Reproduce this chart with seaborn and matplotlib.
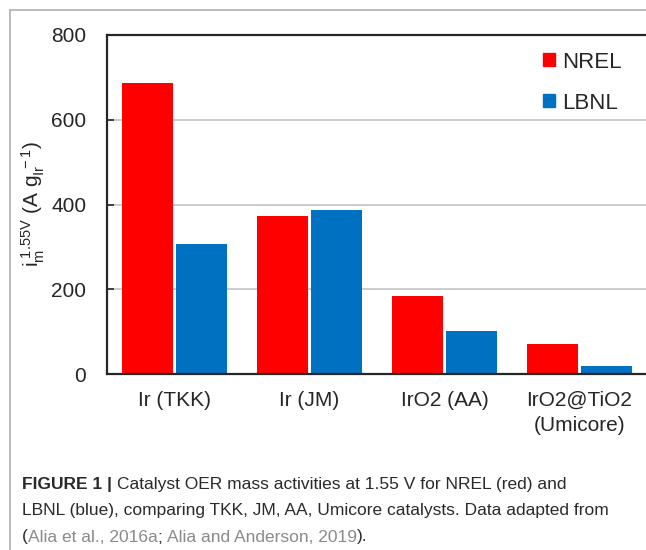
import matplotlib
matplotlib.use("Agg")
import matplotlib.pyplot as plt
import seaborn as sns
import pandas as pd
from matplotlib.lines import Line2D

# data
catalysts = ['Ir (TKK)', 'Ir (JM)', 'IrO2 (AA)', 'IrO2@TiO2\n(Umicore)']
nrel = [687, 372, 185, 71]
lbnl = [306, 386, 102, 19]
labs = ['NREL', 'LBNL']
colors = ['#FF0000', '#0070C0']

df = pd.DataFrame({
    'catalyst': catalysts * 2,
    'lab': [labs[0]] * len(catalysts) + [labs[1]] * len(catalysts),
    'value': nrel + lbnl,
})

sns.set_theme(style='white')
plt.rcParams['font.family'] = ['Liberation Sans', 'DejaVu Sans']
plt.rcParams['mathtext.fontset'] = 'custom'
plt.rcParams['mathtext.rm'] = 'Liberation Sans'
plt.rcParams['mathtext.it'] = 'Liberation Sans'
plt.rcParams['mathtext.bf'] = 'Liberation Sans:bold'

W, H = 646, 550
fig = plt.figure(figsize=(W / 100, H / 100), dpi=100)
fig.patch.set_facecolor('white')

# axes placed in pixel terms
x0, x1, ytop, ybot = 107, 647, 35, 374
ax = fig.add_axes([x0 / W, 1 - ybot / H, (x1 - x0) / W, (ybot - ytop) / H])

sns.barplot(data=df, x='catalyst', y='value', hue='lab', palette=colors,
            saturation=1, width=0.81, gap=0.07, ax=ax, edgecolor='none', legend=True)

ax.set_ylim(0, 800)
ax.set_xlim(-0.5, 3.5)
ax.set_yticks([0, 200, 400, 600, 800])
ax.yaxis.grid(True, color='#c4c4c4', linewidth=1.2)
ax.set_axisbelow(True)

for s in ['left', 'bottom', 'top']:
    ax.spines[s].set_color('#262626')
    ax.spines[s].set_linewidth(1.6)
ax.spines['right'].set_visible(False)

ax.tick_params(axis='y', direction='in', length=5, width=1.2, color='#262626',
               labelsize=15, pad=15, labelcolor='#262626', left=True)
ax.tick_params(axis='x', length=0, labelsize=15, pad=12, labelcolor='#262626')
for lbl in ax.get_xticklabels():
    lbl.set_linespacing(1.45)
ax.set_xlabel('')
ax.set_ylabel(r'$\mathregular{i_m^{\ 1.55V}\ (A\ g_{Ir}^{\ -1})}$', fontsize=15,
              color='#262626', labelpad=3)

handles = [plt.Rectangle((0, 0), 1, 1, color=c) for c in colors]
ax.legend(handles, labs, loc='upper right', bbox_to_anchor=(0.99, 1.01),
          frameon=False, fontsize=16, handlelength=0.55, handleheight=0.55,
          handletextpad=0.3, labelspacing=0.9, labelcolor='#262626')

# outer frame of the panel
fig.add_artist(Line2D([9.5 / W, 9.5 / W], [0, 1 - 10 / H], transform=fig.transFigure,
                      color='#b0b0b0', linewidth=1.2))
fig.add_artist(Line2D([9.5 / W, 1], [1 - 10 / H, 1 - 10 / H], transform=fig.transFigure,
                      color='#b0b0b0', linewidth=1.2))

# caption
cap_font = ['Liberation Sans', 'DejaVu Sans']
cap_size = 12.5
renderer = fig.canvas.get_renderer()


def caption_line(pieces, y):
    x = 22 / W
    for txt, weight, col in pieces:
        t = fig.text(x, 1 - y / H, txt, fontsize=cap_size, family=cap_font,
                     weight=weight, color=col, va='center', ha='left')
        bb = t.get_window_extent(renderer=renderer)
        x += bb.width / W


dark = '#2a2a2a'
gray = '#8a8a8a'
caption_line([('FIGURE 1 | ', 'bold', dark),
              ('Catalyst OER mass activities at 1.55 V for NREL (red) and', 'normal', dark)], 484)
caption_line([('LBNL (blue), comparing TKK, JM, AA, Umicore catalysts. Data adapted from',
               'normal', dark)], 511)
caption_line([('(', 'normal', dark), ('Alia et al., 2016a', 'normal', gray),
              ('; ', 'normal', dark), ('Alia and Anderson, 2019', 'normal', gray),
              (').', 'normal', dark)], 537)

fig.savefig('out.png', dpi=100)
